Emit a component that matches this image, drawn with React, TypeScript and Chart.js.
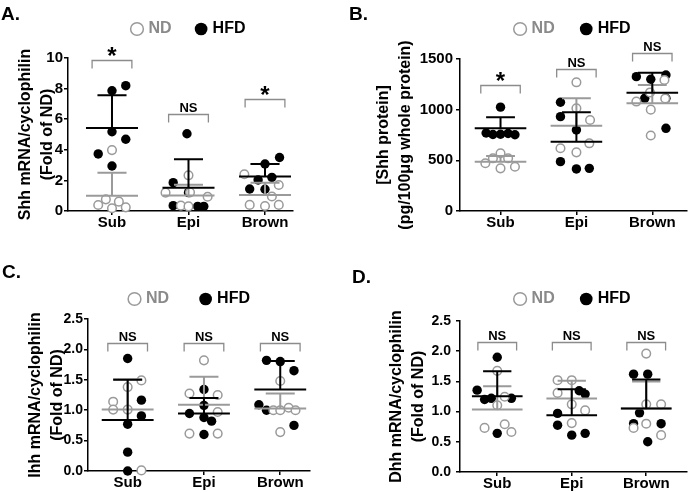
import React, { useEffect, useRef } from 'react';
import { Chart, registerables } from 'chart.js';

Chart.register(...registerables);

// ---------------- data ----------------
const categories = ['Sub', 'Epi', 'Brown'];
const seriesNames = ['ND', 'HFD'];

// Panel A: Shh mRNA / cyclophilin (fold of ND)
const shhMrnaNd = [[3.98, 0.76, 0.61, 0.39, 0.24, 0.18], [2.33, 1.2, 0.93, 0.35, 0.3, 1.22], [2.4, 1.7, 0.95, 0.4, 0.33, 0.4]];
const shhMrnaNdJitter = [[0, -0.08, 0.09, -0.18, 0.18, 0], [0, -0.3, 0.25, -0.1, 0, 0.02], [-0.27, 0.18, 0.09, -0.2, 0, 0.18]];
const shhMrnaHfd = [[8.19, 7.86, 5.18, 4.69, 3.73, 2.94], [5.05, 1.85, 1.2, 0.35, 0.3, 0.3], [3.5, 3.07, 2.2, 2.03, 1.44, 1.42]];
const shhMrnaHfdJitter = [[0.18, 0, 0, 0.18, -0.18, 0], [-0.02, -0.2, 0, -0.2, 0.12, 0.2], [0.19, 0, 0.09, -0.09, -0.2, 0]];
const shhMrnaNdMean = [1.0, 1.02, 1.05];
const shhMrnaNdSd = [1.5, 0.7, 0.8];
const shhMrnaHfdMean = [5.43, 1.52, 2.25];
const shhMrnaHfdSd = [2.14, 1.86, 0.82];
const shhMrnaBracketTop = [9.85, 6.35, 7.3];
const shhMrnaSig = ['*', 'NS', '*'];
const shhMrnaTicks = [0, 2, 4, 6, 8, 10];

// Panel B: Shh protein (pg/100ug whole protein)
const shhProtNd = [[570, 520, 520, 471, 421, 437], [1270, 1014, 898, 668, 619, 579], [1293, 1170, 1080, 1000, 745, 1110]];
const shhProtNdJitter = [[0, -0.1, 0.1, -0.2, 0, 0.19], [0, 0, 0.18, 0.17, -0.21, 0], [0.16, -0.03, -0.21, -0.02, -0.02, 0.17]];
const shhProtHfd = [[1025, 770, 755, 757, 765, 752], [1073, 931, 800, 487, 415, 421], [1326, 1300, 1342, 1112, 1112, 816]];
const shhProtHfdJitter = [[0, -0.19, -0.1, 0, 0.1, 0.19], [-0.21, -0.21, 0, -0.21, 0, 0.17], [-0.21, -0.02, 0.18, -0.1, 0.18, 0.18]];
const shhProtNdMean = [487, 842, 1063];
const shhProtNdSd = [56, 270, 181];
const shhProtHfdMean = [816, 684, 1168];
const shhProtHfdSd = [109, 290, 197];
const shhProtBracketTop = [1248, 1400, 1557];
const shhProtSig = ['*', 'NS', 'NS'];
const shhProtTicks = [0, 500, 1000, 1500];

// Panel C: Ihh mRNA / cyclophilin
const ihhNd = [[1.49, 1.38, 1.14, 1.01, 1.01, 0.01], [1.82, 1.275, 1.25, 0.97, 0.615, 0.615], [1.48, 1.0, 1.0, 1.04, 1.0, 0.64]];
const ihhNdJitter = [[0.18, 0, -0.19, -0.19, 0, 0.18], [0, -0.19, 0.18, 0.18, -0.19, 0.18], [0, -0.09, 0, 0.11, 0.2, 0]];
const ihhHfd = [[1.85, 1.165, 0.906, 0.77, 0.31, 0.0], [1.34, 1.08, 0.945, 0.88, 0.82, 0.6], [1.82, 1.8, 1.65, 1.09, 1.0, 0.75]];
const ihhHfdJitter = [[0, 0.18, 0.18, 0, 0, 0], [0, 0, -0.19, 0, 0.1, 0], [-0.18, 0, 0.18, -0.28, -0.18, 0.18]];
const ihhNdMean = [1.01, 1.09, 1.03];
const ihhNdSd = [0.5, 0.46, 0.245];
const ihhHfdMean = [0.84, 0.945, 1.34];
const ihhHfdSd = [0.66, 0.255, 0.47];
const ihhBracketTop = [2.1, 2.1, 2.1];
const ihhSig = ['NS', 'NS', 'NS'];
const ihhTicks = [0, 0.5, 1.0, 1.5, 2.0, 2.5];

// Panel D: Dhh mRNA / cyclophilin
const dhhNd = [[1.675, 1.245, 1.106, 0.73, 0.79, 0.663], [1.52, 1.52, 1.31, 1.12, 1.02, 0.81], [1.96, 1.12, 1.12, 0.8, 0.73, 0.61]];
const dhhNdJitter = [[0, 0.1, 0, -0.17, 0.1, 0.19], [-0.19, 0, -0.19, 0, 0.18, 0], [0, 0, 0.2, 0, -0.17, 0.2]];
const dhhHfd = [[1.9, 1.355, 1.2, 1.22, 1.22, 0.64], [1.345, 1.29, 0.97, 0.775, 0.61, 0.64], [1.62, 1.62, 0.98, 0.8, 0.8, 0.5]];
const dhhHfdJitter = [[0, -0.27, -0.17, -0.08, 0.19, 0], [0.1, 0.18, -0.19, -0.19, 0, 0.18], [-0.17, 0.02, -0.09, -0.17, 0.2, 0.02]];
const dhhNdMean = [1.035, 1.217, 1.05];
const dhhNdSd = [0.385, 0.293, 0.45];
const dhhHfdMean = [1.255, 0.94, 1.05];
const dhhHfdSd = [0.415, 0.43, 0.48];
const dhhBracketTop = [2.16, 2.16, 2.16];
const dhhSig = ['NS', 'NS', 'NS'];
const dhhTicks = [0, 0.5, 1.0, 1.5, 2.0, 2.5];

// ---------------- styles ----------------
const FONT = "'Liberation Sans', Arial, Helvetica, sans-serif";
const GRAY = '#9a9a9a';
const GRAY_TEXT = '#8a8a8a';
const BRACKET = '#8c8c8c';

type PanelCfg = {
  letter: string; letterLeft: number; letterTop: number;
  left: number; top: number; width: number; height: number;
  pad: { left: number; top: number; right: number; bottom: number };
  axisWidth: number; rightGap: number; legendFull: boolean;
  legendPadding: number; legendExtra: number;
  yTitle: string[]; yTitlePad: number; yTickPad: number; yTickSize: number;
  yMax: number; yTicks: number[]; yFmt: (v: number) => string;
  xMin: number; xMax: number;
  nd: number[][]; ndJ: number[][]; hfd: number[][]; hfdJ: number[][];
  ndMean: number[]; ndSd: number[]; hfdMean: number[]; hfdSd: number[];
  bracketTop: number[]; sig: string[];
};

const panels: PanelCfg[] = [
  {
    letter: 'A.', letterLeft: 1, letterTop: 4,
    left: 0, top: -10, width: 379, height: 240,
    pad: { left: 0, top: 5, right: 0, bottom: 0 },
    axisWidth: 68, rightGap: 86, legendFull: true, legendPadding: 26, legendExtra: 11,
    yTitle: ['Shh mRNA/cyclophilin', '(Fold of ND)'], yTitlePad: 15, yTickPad: 1, yTickSize: 15,
    yMax: 10, yTicks: shhMrnaTicks, yFmt: (v) => String(v),
    xMin: -0.575, xMax: 2.366,
    nd: shhMrnaNd, ndJ: shhMrnaNdJitter, hfd: shhMrnaHfd, hfdJ: shhMrnaHfdJitter,
    ndMean: shhMrnaNdMean, ndSd: shhMrnaNdSd, hfdMean: shhMrnaHfdMean, hfdSd: shhMrnaHfdSd,
    bracketTop: shhMrnaBracketTop, sig: shhMrnaSig,
  },
  {
    letter: 'B.', letterLeft: 349, letterTop: 4,
    left: 345, top: -10, width: 348, height: 240,
    pad: { left: 0, top: 3, right: 3, bottom: 0 },
    axisWidth: 115, rightGap: 0, legendFull: false, legendPadding: 28, legendExtra: 12,
    yTitle: ['[Shh protein]', '(pg/100\u03bcg whole protein)'], yTitlePad: 28, yTickPad: 3, yTickSize: 15,
    yMax: 1500, yTicks: shhProtTicks, yFmt: (v) => String(v),
    xMin: -0.534, xMax: 2.46,
    nd: shhProtNd, ndJ: shhProtNdJitter, hfd: shhProtHfd, hfdJ: shhProtHfdJitter,
    ndMean: shhProtNdMean, ndSd: shhProtNdSd, hfdMean: shhProtHfdMean, hfdSd: shhProtHfdSd,
    bracketTop: shhProtBracketTop, sig: shhProtSig,
  },
  {
    letter: 'C.', letterLeft: 2, letterTop: 262,
    left: 0, top: 250, width: 381, height: 240,
    pad: { left: 0, top: 8, right: 0, bottom: 0 },
    axisWidth: 88, rightGap: 71, legendFull: true, legendPadding: 33, legendExtra: 2,
    yTitle: ['Ihh mRNA/cyclophilin', '(Fold of ND)'], yTitlePad: 25, yTickPad: 1, yTickSize: 14,
    yMax: 2.5, yTicks: ihhTicks, yFmt: (v) => v.toFixed(1),
    xMin: -0.52, xMax: 2.39,
    nd: ihhNd, ndJ: ihhNdJitter, hfd: ihhHfd, hfdJ: ihhHfdJitter,
    ndMean: ihhNdMean, ndSd: ihhNdSd, hfdMean: ihhHfdMean, hfdSd: ihhHfdSd,
    bracketTop: ihhBracketTop, sig: ihhSig,
  },
  {
    letter: 'D.', letterLeft: 352, letterTop: 267,
    left: 345, top: 250, width: 348, height: 241,
    pad: { left: 0, top: 13, right: 1, bottom: 0 },
    axisWidth: 115, rightGap: 0, legendFull: false, legendPadding: 28, legendExtra: 4,
    yTitle: ['Dhh mRNA/cyclophilin', '(Fold of ND)'], yTitlePad: 41, yTickPad: 5, yTickSize: 14,
    yMax: 2.5, yTicks: dhhTicks, yFmt: (v) => v.toFixed(1),
    xMin: -0.5, xMax: 2.55,
    nd: dhhNd, ndJ: dhhNdJitter, hfd: dhhHfd, hfdJ: dhhHfdJitter,
    ndMean: dhhNdMean, ndSd: dhhNdSd, hfdMean: dhhHfdMean, hfdSd: dhhHfdSd,
    bracketTop: dhhBracketTop, sig: dhhSig,
  },
];

function toPoints(values: number[][], jitter: number[][]) {
  const pts: { x: number; y: number }[] = [];
  values.forEach((group, ci) => group.forEach((v, k) => pts.push({ x: ci + jitter[ci][k], y: v })));
  return pts;
}

function legendGapPlugin(extra: number) {
  return {
    id: 'legendGap',
    beforeInit(chart: any) {
      const legend = chart.legend;
      if (!legend) return;
      const origFit = legend.fit;
      legend.fit = function () {
        origFit.call(this);
        this.height += extra;
      };
    },
  };
}

function summaryPlugin(cfg: PanelCfg) {
  return {
    id: 'summaryMarks',
    afterDatasetsDraw(chart: any) {
      const { ctx, scales } = chart;
      const x = scales.x, y = scales.y;
      const groups = [
        { means: cfg.ndMean, sds: cfg.ndSd, color: GRAY },
        { means: cfg.hfdMean, sds: cfg.hfdSd, color: '#000' },
      ];
      ctx.save();
      ctx.lineWidth = 2;
      for (const g of groups) {
        ctx.strokeStyle = g.color;
        g.means.forEach((m, i) => {
          const cx = x.getPixelForValue(i);
          const my = y.getPixelForValue(m);
          const ty = y.getPixelForValue(m + g.sds[i]);
          const hw = x.getPixelForValue(i + 0.34) - cx;
          const cw = x.getPixelForValue(i + 0.19) - cx;
          ctx.beginPath();
          ctx.moveTo(cx - hw, my); ctx.lineTo(cx + hw, my);
          ctx.moveTo(cx, my); ctx.lineTo(cx, ty);
          ctx.moveTo(cx - cw, ty); ctx.lineTo(cx + cw, ty);
          ctx.stroke();
        });
      }
      ctx.restore();
    },
    afterDraw(chart: any) {
      const { ctx, scales } = chart;
      const x = scales.x, y = scales.y;
      ctx.save();
      cfg.bracketTop.forEach((t, i) => {
        const cx = x.getPixelForValue(i);
        const hw = x.getPixelForValue(i + 0.26) - cx;
        const ty = Math.round(y.getPixelForValue(t)) + 0.5;
        ctx.strokeStyle = BRACKET;
        ctx.lineWidth = 1.3;
        ctx.beginPath();
        ctx.moveTo(cx - hw, ty + 8); ctx.lineTo(cx - hw, ty); ctx.lineTo(cx + hw, ty); ctx.lineTo(cx + hw, ty + 8);
        ctx.stroke();
        const label = cfg.sig[i];
        ctx.fillStyle = '#000';
        ctx.textAlign = 'center';
        ctx.textBaseline = 'alphabetic';
        if (label === '*') {
          ctx.font = `bold 24px ${FONT}`;
          ctx.fillText(label, cx, ty + 3);
        } else {
          ctx.font = `bold 13px ${FONT}`;
          ctx.fillText(label, cx, ty - 3);
        }
      });
      ctx.restore();
    },
  };
}

function buildConfig(cfg: PanelCfg): any {
  const tickFont = { family: FONT, size: 15, weight: 'bold' as const, lineHeight: 1 };
  const scales: any = {
    x: {
      type: 'linear',
      min: cfg.xMin,
      max: cfg.xMax,
      border: { display: true, color: '#000', width: 1.5 },
      grid: { display: true, drawOnChartArea: false, drawTicks: true, tickLength: 4, color: '#000', lineWidth: 1.5 },
      afterBuildTicks: (s: any) => { s.ticks = categories.map((_, i) => ({ value: i })); },
      ticks: {
        callback: (v: number) => categories[Math.round(v)] ?? '',
        font: tickFont, color: '#000', padding: 0, autoSkip: false, maxRotation: 0, minRotation: 0,
      },
    },
    y: {
      type: 'linear',
      min: 0,
      max: cfg.yMax,
      border: { display: true, color: '#000', width: 1.5 },
      grid: { display: true, drawOnChartArea: false, drawTicks: true, tickLength: 4, color: '#000', lineWidth: 1.5 },
      afterBuildTicks: (s: any) => { s.ticks = cfg.yTicks.map((v) => ({ value: v })); },
      afterFit: (s: any) => { s.width = cfg.axisWidth; },
      ticks: {
        callback: (v: number) => cfg.yFmt(v),
        font: { family: FONT, size: cfg.yTickSize, weight: 'bold' as const },
        color: '#000', padding: cfg.yTickPad,
      },
      title: {
        display: true,
        text: cfg.yTitle,
        color: '#000',
        font: { family: FONT, size: 16, weight: 'bold' as const, lineHeight: 1.375 },
        padding: { top: cfg.yTitlePad, bottom: 0 },
      },
    },
  };
  if (cfg.rightGap > 0) {
    scales.y2 = {
      type: 'linear', position: 'right', display: true,
      grid: { display: false }, border: { display: false }, ticks: { display: false },
      afterFit: (s: any) => { s.width = cfg.rightGap; },
    };
  }
  return {
    type: 'scatter',
    data: {
      datasets: [
        {
          label: seriesNames[0],
          data: toPoints(cfg.nd, cfg.ndJ),
          backgroundColor: '#ffffff',
          borderColor: GRAY,
          borderWidth: 1.5,
          pointRadius: 4.3,
          clip: false,
        },
        {
          label: seriesNames[1],
          data: toPoints(cfg.hfd, cfg.hfdJ),
          backgroundColor: '#000000',
          borderColor: '#000000',
          borderWidth: 0,
          pointRadius: 4.7,
          clip: false,
        },
      ],
    },
    options: {
      responsive: false,
      animation: false,
      events: [],
      layout: { padding: cfg.pad },
      scales,
      plugins: {
        tooltip: { enabled: false },
        title: { display: false },
        legend: {
          display: true,
          position: 'top',
          fullSize: cfg.legendFull,
          labels: {
            usePointStyle: true,
            boxWidth: 7,
            boxHeight: 9,
            padding: cfg.legendPadding,
            font: { family: FONT, size: 16, weight: 'bold' as const },
            generateLabels: (chart: any) => chart.data.datasets.map((ds: any, i: number) => ({
              text: ds.label,
              fillStyle: ds.backgroundColor,
              strokeStyle: ds.borderColor,
              lineWidth: i === 0 ? 1.5 : 0,
              pointStyle: 'circle',
              fontColor: i === 0 ? GRAY_TEXT : '#000',
              hidden: false,
              datasetIndex: i,
            })),
          },
        },
      },
    },
    plugins: [legendGapPlugin(cfg.legendExtra), summaryPlugin(cfg)],
  };
}

function Panel({ cfg }: { cfg: PanelCfg }) {
  const ref = useRef<HTMLCanvasElement>(null);
  useEffect(() => {
    if (!ref.current) return;
    const chart = new Chart(ref.current, buildConfig(cfg));
    return () => chart.destroy();
  }, [cfg]);
  return (
    <>
      <canvas
        ref={ref}
        width={cfg.width}
        height={cfg.height}
        style={{ position: 'absolute', left: cfg.left, top: cfg.top, width: cfg.width, height: cfg.height, display: 'block' }}
      />
      <div
        style={{
          position: 'absolute', left: cfg.letterLeft, top: cfg.letterTop,
          font: `bold 19px ${FONT}`, lineHeight: '19px', color: '#000', whiteSpace: 'nowrap',
        }}
      >
        {cfg.letter}
      </div>
    </>
  );
}

export default function App() {
  return (
    <div style={{ position: 'absolute', left: 0, top: 0, width: 693, height: 493, overflow: 'hidden', background: '#fff' }}>
      {panels.map((p) => <Panel key={p.letter} cfg={p} />)}
    </div>
  );
}
